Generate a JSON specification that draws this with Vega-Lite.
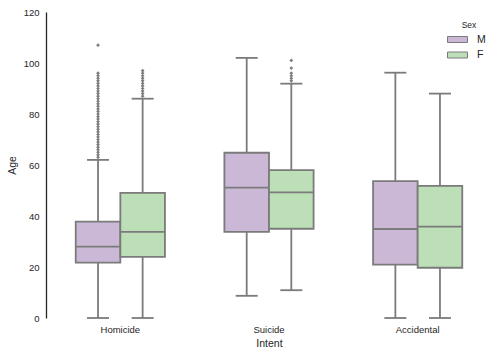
{
  "$schema": "https://vega.github.io/schema/vega-lite/v6.json",
  "autosize": {"type": "none"},
  "padding": {"left": 46, "top": 12, "right": 7, "bottom": 40},
  "width": 446,
  "height": 306,
  "background": "white",
  "config": {
    "view": {"stroke": null},
    "font": "Liberation Sans",
    "axis": {"grid": false, "ticks": false, "labelColor": "#262626", "titleColor": "#262626", "titleFontWeight": "normal", "labelFontSize": 9.5, "titleFontSize": 10.5, "labelFont": "Liberation Sans", "titleFont": "Liberation Sans"}
  },
  "datasets": {
    "boxes": [
      {"Intent": "Homicide", "Sex": "M", "lower": 0, "q1": 21.7, "median": 28, "q3": 37.8, "upper": 62},
      {"Intent": "Homicide", "Sex": "F", "lower": 0, "q1": 24, "median": 33.8, "q3": 49.1, "upper": 86},
      {"Intent": "Suicide", "Sex": "M", "lower": 8.7, "q1": 33.8, "median": 51.1, "q3": 64.8, "upper": 102},
      {"Intent": "Suicide", "Sex": "F", "lower": 10.9, "q1": 35, "median": 49.3, "q3": 58, "upper": 91.9},
      {"Intent": "Accidental", "Sex": "M", "lower": 0, "q1": 20.9, "median": 34.9, "q3": 53.7, "upper": 96.2},
      {"Intent": "Accidental", "Sex": "F", "lower": 0, "q1": 19.7, "median": 35.8, "q3": 51.8, "upper": 88}
    ],
    "outliers": [
      {"Intent": "Homicide", "Sex": "M", "Age": 63}, {"Intent": "Homicide", "Sex": "M", "Age": 64}, {"Intent": "Homicide", "Sex": "M", "Age": 65}, {"Intent": "Homicide", "Sex": "M", "Age": 66},
      {"Intent": "Homicide", "Sex": "M", "Age": 67}, {"Intent": "Homicide", "Sex": "M", "Age": 68}, {"Intent": "Homicide", "Sex": "M", "Age": 69}, {"Intent": "Homicide", "Sex": "M", "Age": 70},
      {"Intent": "Homicide", "Sex": "M", "Age": 71}, {"Intent": "Homicide", "Sex": "M", "Age": 72}, {"Intent": "Homicide", "Sex": "M", "Age": 73}, {"Intent": "Homicide", "Sex": "M", "Age": 74},
      {"Intent": "Homicide", "Sex": "M", "Age": 75}, {"Intent": "Homicide", "Sex": "M", "Age": 76}, {"Intent": "Homicide", "Sex": "M", "Age": 77}, {"Intent": "Homicide", "Sex": "M", "Age": 78},
      {"Intent": "Homicide", "Sex": "M", "Age": 79}, {"Intent": "Homicide", "Sex": "M", "Age": 80}, {"Intent": "Homicide", "Sex": "M", "Age": 81}, {"Intent": "Homicide", "Sex": "M", "Age": 82},
      {"Intent": "Homicide", "Sex": "M", "Age": 83}, {"Intent": "Homicide", "Sex": "M", "Age": 84}, {"Intent": "Homicide", "Sex": "M", "Age": 85}, {"Intent": "Homicide", "Sex": "M", "Age": 86},
      {"Intent": "Homicide", "Sex": "M", "Age": 87}, {"Intent": "Homicide", "Sex": "M", "Age": 88}, {"Intent": "Homicide", "Sex": "M", "Age": 89}, {"Intent": "Homicide", "Sex": "M", "Age": 90},
      {"Intent": "Homicide", "Sex": "M", "Age": 91}, {"Intent": "Homicide", "Sex": "M", "Age": 92}, {"Intent": "Homicide", "Sex": "M", "Age": 93}, {"Intent": "Homicide", "Sex": "M", "Age": 94},
      {"Intent": "Homicide", "Sex": "M", "Age": 95}, {"Intent": "Homicide", "Sex": "M", "Age": 96}, {"Intent": "Homicide", "Sex": "M", "Age": 107},
      {"Intent": "Homicide", "Sex": "F", "Age": 87}, {"Intent": "Homicide", "Sex": "F", "Age": 88}, {"Intent": "Homicide", "Sex": "F", "Age": 89}, {"Intent": "Homicide", "Sex": "F", "Age": 90},
      {"Intent": "Homicide", "Sex": "F", "Age": 91}, {"Intent": "Homicide", "Sex": "F", "Age": 92}, {"Intent": "Homicide", "Sex": "F", "Age": 93}, {"Intent": "Homicide", "Sex": "F", "Age": 94},
      {"Intent": "Homicide", "Sex": "F", "Age": 95}, {"Intent": "Homicide", "Sex": "F", "Age": 96}, {"Intent": "Homicide", "Sex": "F", "Age": 97},
      {"Intent": "Suicide", "Sex": "F", "Age": 93}, {"Intent": "Suicide", "Sex": "F", "Age": 94}, {"Intent": "Suicide", "Sex": "F", "Age": 95}, {"Intent": "Suicide", "Sex": "F", "Age": 96},
      {"Intent": "Suicide", "Sex": "F", "Age": 98}, {"Intent": "Suicide", "Sex": "F", "Age": 101}
    ]
  },
  "encoding": {
    "x": {"field": "Intent", "type": "nominal", "sort": ["Homicide", "Suicide", "Accidental"],
          "scale": {"paddingInner": 0.4, "paddingOuter": 0.2},
          "axis": {"domain": false, "labelAngle": 0, "labelPadding": 6, "titlePadding": 5, "title": "Intent"}},
    "xOffset": {"field": "Sex", "type": "nominal", "sort": ["M", "F"], "scale": {"domain": ["M", "F"], "paddingInner": 0, "paddingOuter": 0}}
  },
  "layer": [
    {
      "data": {"name": "boxes"},
      "mark": {"type": "rule", "color": "#7b7b7b", "strokeWidth": 1.8},
      "encoding": {
        "y": {"field": "lower", "type": "quantitative", "scale": {"domain": [0, 120], "nice": false},
              "axis": {"values": [0, 20, 40, 60, 80, 100, 120], "domainColor": "#262626", "domainWidth": 1.3, "labelPadding": 7, "title": "Age", "titlePadding": 6}},
        "y2": {"field": "upper"}
      }
    },
    {
      "data": {"name": "boxes"},
      "mark": {"type": "bar", "stroke": "#7b7b7b", "strokeWidth": 1.8, "opacity": 1},
      "encoding": {
        "y": {"field": "q1", "type": "quantitative"},
        "y2": {"field": "q3"},
        "color": {"field": "Sex", "type": "nominal", "sort": ["M", "F"],
                  "scale": {"domain": ["M", "F"], "range": ["#cbb8d7", "#bcdfb7"]},
                  "legend": {"orient": "none", "legendX": 406, "legendY": 8.5, "padding": 0, "title": "Sex", "titleFontSize": 8.5, "titleFontWeight": "normal", "titleColor": "#262626", "titleAnchor": "middle", "titlePadding": 5,
                             "labelFontSize": 10.5, "labelColor": "#262626", "labelOffset": 14,
                             "symbolType": "M-2,-0.6H2V0.6H-2Z", "symbolSize": 100, "symbolStrokeColor": "#7b7b7b", "symbolStrokeWidth": 1, "symbolOpacity": 1, "rowPadding": 4.5}}
      }
    },
    {
      "data": {"name": "boxes"},
      "mark": {"type": "tick", "color": "#7b7b7b", "thickness": 1.8, "size": 44, "opacity": 1},
      "encoding": {"y": {"field": "median", "type": "quantitative"}}
    },
    {
      "data": {"name": "boxes"},
      "mark": {"type": "tick", "color": "#7b7b7b", "thickness": 1.8, "size": 22, "opacity": 1},
      "encoding": {"y": {"field": "upper", "type": "quantitative"}}
    },
    {
      "data": {"name": "boxes"},
      "mark": {"type": "tick", "color": "#7b7b7b", "thickness": 1.8, "size": 22, "opacity": 1},
      "encoding": {"y": {"field": "lower", "type": "quantitative"}}
    },
    {
      "data": {"name": "outliers"},
      "mark": {"type": "point", "shape": "diamond", "filled": true, "color": "#7b7b7b", "size": 14, "opacity": 1},
      "encoding": {"y": {"field": "Age", "type": "quantitative"}}
    }
  ]
}
